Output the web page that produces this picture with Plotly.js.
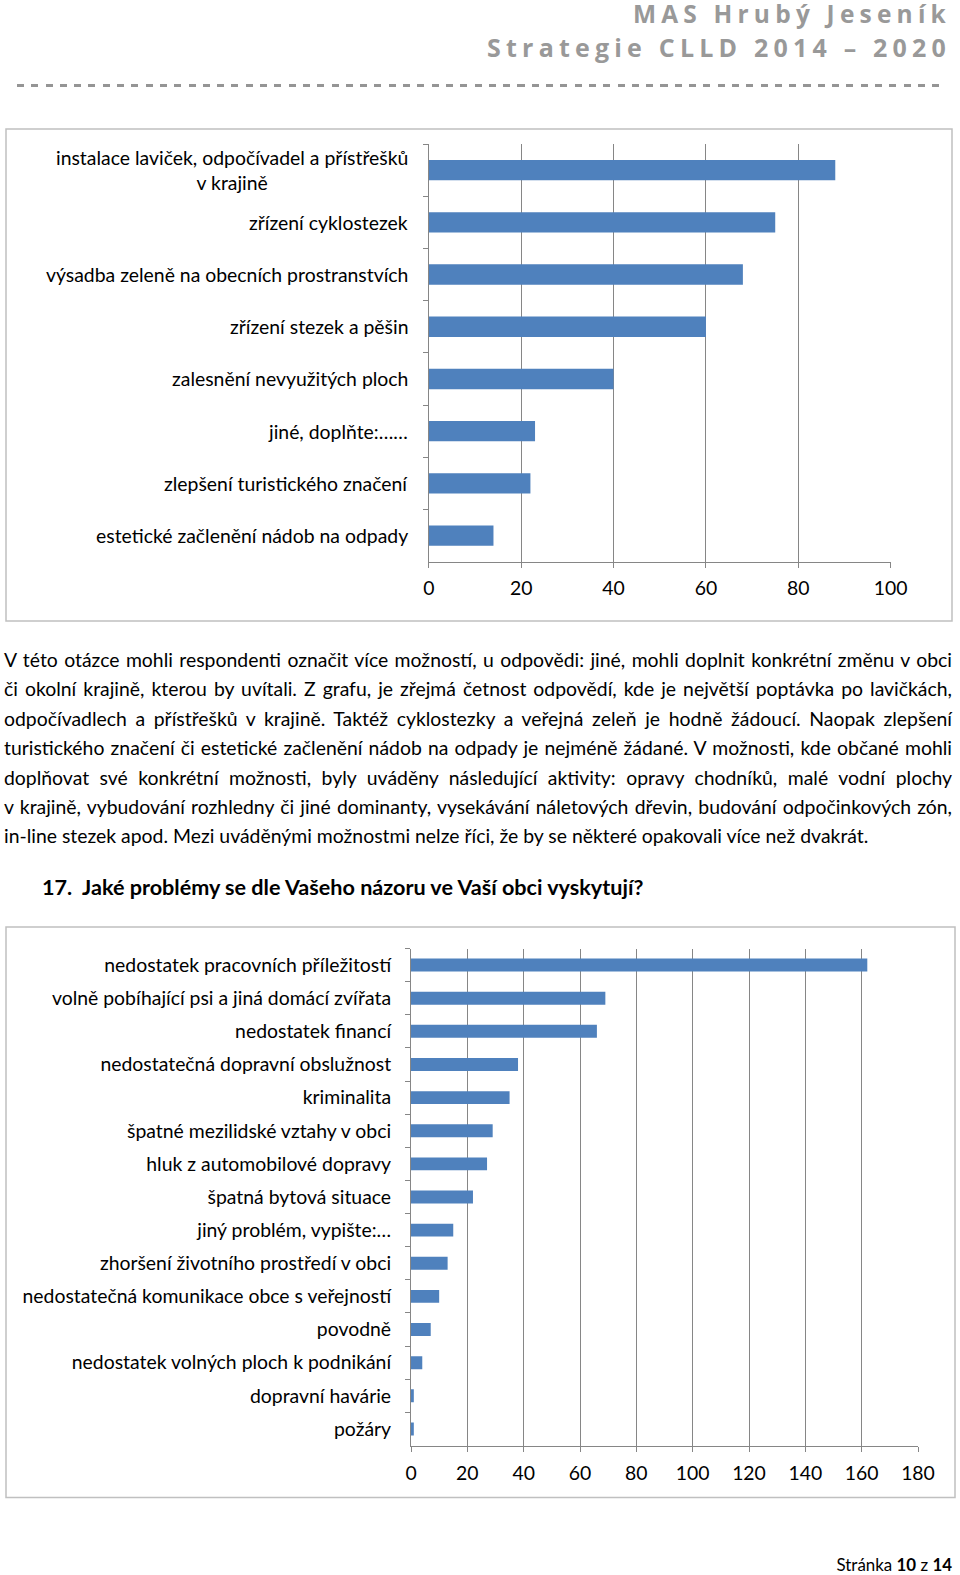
<!DOCTYPE html>
<html>
<head>
<meta charset="utf-8">
<script src="https://cdn.plot.ly/plotly-3.0.1.min.js"></script>
<style>
  html, body { margin: 0; padding: 0; background: #fff; }
  body { width: 960px; height: 1575px; position: relative; overflow: hidden; font-family: Lato, "Open Sans", sans-serif; }
  #plot { position: absolute; left: 0; top: 0; width: 960px; height: 1575px; }
  .hdr { position: absolute; right: 9px; color: #999999; font-weight: bold; font-family: "Open Sans", Lato, sans-serif; letter-spacing: 5.2px; white-space: nowrap; line-height: 25px; }
  .dash { position: absolute; left: 17px; width: 928px; top: 84px; height: 3px;
          background: repeating-linear-gradient(to right, #959595 0px, #959595 7px, transparent 7px, transparent 14.3px); }
  #para { position: absolute; left: 4px; width: 948px; top: 645px; font-size: 19.4px; line-height: 29.4px; color: #000; }
  #para div { text-align: justify; text-align-last: justify; white-space: nowrap; }
  #para div.last { text-align-last: left; }
  #q { position: absolute; left: 42px; top: 874px; font-size: 21.6px; font-weight: bold; white-space: nowrap; }
  #foot { position: absolute; right: 8px; top: 1556px; font-size: 16.9px; line-height: 17px; white-space: nowrap; }
</style>
</head>
<body>
<div id="plot"></div>
<div class="hdr" style="top:1px;font-size:24.5px;">MAS Hrubý Jeseník</div>
<div class="hdr" style="top:35px;font-size:25px;">Strategie CLLD 2014 – 2020</div>
<div class="dash"></div>
<div id="para">
<div>V této otázce mohli respondenti označit více možností, u odpovědi: jiné, mohli doplnit konkrétní změnu v obci</div>
<div>či okolní krajině, kterou by uvítali. Z grafu, je zřejmá četnost odpovědí, kde je největší poptávka po lavičkách,</div>
<div>odpočívadlech a přístřešků v krajině. Taktéž cyklostezky a veřejná zeleň je hodně žádoucí. Naopak zlepšení</div>
<div>turistického značení či estetické začlenění nádob na odpady je nejméně žádané. V možnosti, kde občané mohli</div>
<div>doplňovat své konkrétní možnosti, byly uváděny následující aktivity: opravy chodníků, malé vodní plochy</div>
<div>v krajině, vybudování rozhledny či jiné dominanty, vysekávání náletových dřevin, budování odpočinkových zón,</div>
<div class="last">in-line stezek apod. Mezi uváděnými možnostmi nelze říci, že by se některé opakovali více než dvakrát.</div>
</div>
<div id="q">17.&nbsp;&nbsp;Jaké problémy se dle Vašeho názoru ve Vaší obci vyskytují?</div>
<div id="foot">Stránka <b>10</b> z <b>14</b></div>
<script>
// ---- Chart 1 data ----
const cats1 = [
  "instalace laviček, odpočívadel a přístřešků<br>v krajině",
  "zřízení cyklostezek",
  "výsadba zeleně na obecních prostranstvích",
  "zřízení stezek a pěšin",
  "zalesnění nevyužitých ploch",
  "jiné, doplňte:……",
  "zlepšení turistického značení",
  "estetické začlenění nádob na odpady"
];
const vals1 = [88, 75, 68, 60, 40, 23, 22, 14];
const ticks1 = [0, 20, 40, 60, 80, 100];

// ---- Chart 2 data ----
const cats2 = [
  "nedostatek pracovních příležitostí",
  "volně pobíhající psi a jiná domácí zvířata",
  "nedostatek financí",
  "nedostatečná dopravní obslužnost",
  "kriminalita",
  "špatné mezilidské vztahy v obci",
  "hluk z automobilové dopravy",
  "špatná bytová situace",
  "jiný problém, vypište:…",
  "zhoršení životního prostředí v obci",
  "nedostatečná komunikace obce s veřejností",
  "povodně",
  "nedostatek volných ploch k podnikání",
  "dopravní havárie",
  "požáry"
];
const vals2 = [162, 69, 66, 38, 35, 29, 27, 22, 15, 13, 10, 7, 4, 1, 1];
const ticks2 = [0, 20, 40, 60, 80, 100, 120, 140, 160, 180];

const W = 960, H = 1575;
const px = v => v / W;
const py = v => 1 - v / H;
const barColor = "#4f81bd";
const gridC = "#868686";
const lblFont = { family: "Lato, 'Open Sans', sans-serif", size: 19.4, color: "#000" };

const traces = [
  { type: "bar", orientation: "h", x: vals1, y: cats1, xaxis: "x", yaxis: "y",
    marker: { color: barColor }, hoverinfo: "skip" },
  { type: "bar", orientation: "h", x: vals2, y: cats2, xaxis: "x2", yaxis: "y2",
    marker: { color: barColor }, hoverinfo: "skip" }
];

const annotations = cats1.map(c => ({
  xref: "paper", yref: "y", x: px(410), y: c, xanchor: "right", yanchor: "middle",
  text: c, showarrow: false, align: "center", font: lblFont
}));

const layout = {
  width: W, height: H,
  margin: { l: 0, r: 0, t: 0, b: 0 },
  paper_bgcolor: "rgba(0,0,0,0)", plot_bgcolor: "rgba(0,0,0,0)",
  showlegend: false, bargap: 0.61,
  font: lblFont,
  xaxis: {
    domain: [px(428.8), px(890.7)], anchor: "y", range: [0, 100],
    tickvals: ticks1, ticktext: ticks1.map(String),
    showgrid: true, gridcolor: gridC, gridwidth: 1,
    showline: true, linecolor: gridC, linewidth: 1,
    ticks: "outside", ticklen: 5, tickcolor: gridC, zeroline: false,
    tickfont: lblFont, ticklabelstandoff: 4, fixedrange: true
  },
  yaxis: {
    domain: [py(561.7), py(144)], anchor: "x", type: "category",
    categoryarray: cats1, categoryorder: "array", autorange: "reversed",
    showticklabels: false, showgrid: false,
    showline: true, linecolor: gridC, linewidth: 1,
    ticks: "outside", ticklen: 5, tickcolor: gridC, tickson: "boundaries",
    fixedrange: true
  },
  xaxis2: {
    domain: [px(411), px(918)], anchor: "y2", range: [0, 180],
    tickvals: ticks2, ticktext: ticks2.map(String),
    showgrid: true, gridcolor: gridC, gridwidth: 1,
    showline: true, linecolor: gridC, linewidth: 1,
    ticks: "outside", ticklen: 5, tickcolor: gridC, zeroline: false,
    tickfont: lblFont, ticklabelstandoff: 5, fixedrange: true
  },
  yaxis2: {
    domain: [py(1445.5), py(948.5)], anchor: "x2", type: "category",
    categoryarray: cats2, categoryorder: "array", autorange: "reversed",
    showgrid: false, showline: true, linecolor: gridC, linewidth: 1,
    ticks: "outside", ticklen: 5, tickcolor: gridC, tickson: "boundaries",
    tickfont: lblFont, ticklabelstandoff: 15, fixedrange: true
  },
  annotations: annotations,
  shapes: [
    { type: "rect", xref: "paper", yref: "paper", x0: px(6), x1: px(952), y0: py(621), y1: py(129),
      line: { color: "#c0c0c0", width: 1.5 }, fillcolor: "rgba(0,0,0,0)" },
    { type: "rect", xref: "paper", yref: "paper", x0: px(6), x1: px(955), y0: py(1497.5), y1: py(927),
      line: { color: "#c0c0c0", width: 1.5 }, fillcolor: "rgba(0,0,0,0)" }
  ]
};

Plotly.newPlot("plot", traces, layout, { staticPlot: true, displayModeBar: false });
</script>
</body>
</html>
